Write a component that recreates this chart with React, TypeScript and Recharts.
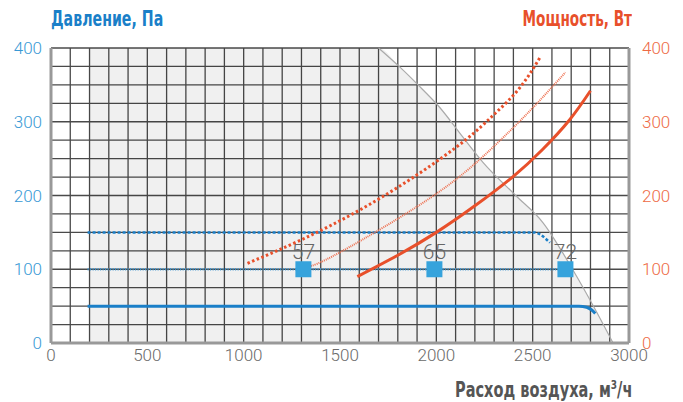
import * as React from 'react';
import { ComposedChart, Line, Area, Scatter, XAxis, YAxis, CartesianGrid } from 'recharts';

// pressure curves (left axis, Pa)
const pSolidX = [190, 2740, 2780, 2805, 2825];
const pSolidY = [50, 50, 48.5, 45, 40];
const pFineX = [190, 2650];
const pFineY = [100, 100];
const pDotX = [190, 2510, 2540, 2565, 2590];
const pDotY = [150, 150, 147, 142, 136];

// power curves (right axis, W)
const wSolidX = [1590, 1800, 2000, 2200, 2400, 2550, 2690, 2800];
const wSolidY = [90, 119, 150, 186, 226, 262, 302, 342];
const wFineX = [1330, 1500, 1970, 2280, 2490, 2670];
const wFineY = [103, 123, 197, 262, 316, 367];
const wDotX = [1020, 1300, 1600, 1900, 2150, 2300, 2430, 2540];
const wDotY = [108, 140, 180, 228, 275, 310, 345, 388];

// working zone boundary
const zoneX = [200, 1700, 1811, 1905, 2019, 2138, 2242, 2408, 2554, 2709, 2834, 2917];
const zoneY = [400, 400, 374, 350, 319, 279, 245, 201, 163, 99, 41, 0];

// operating points
const markX = [1310, 1990, 2670];
const markY = [100, 100, 100];
const markLabels = ['57', '65', '72'];

const xTicks = [0, 500, 1000, 1500, 2000, 2500, 3000];
const yTicks = [0, 100, 200, 300, 400];

const zip = (xs: number[], ys: number[]) => xs.map((x, i) => ({ x, y: ys[i] }));

const BLUE = '#1a7fc8';
const ORANGE = '#e8502b';
const tickFont = { fontFamily: 'Roboto, sans-serif', fontWeight: 300, fontSize: 17 };
const titleStyle: React.CSSProperties = {
  position: 'absolute', fontFamily: "'DejaVu Sans Condensed', 'DejaVu Sans', sans-serif",
  fontWeight: 700, fontSize: 21, whiteSpace: 'nowrap', lineHeight: '24px',
};

// grid: every 100 m3/h and every 25 Pa
const vGrid = (props: any) => {
  const { offset } = props;
  const out: number[] = [];
  for (let i = 0; i <= 30; i++) out.push(offset.left + (offset.width * i) / 30);
  return out;
};
const hGrid = (props: any) => {
  const { offset } = props;
  const out: number[] = [];
  for (let i = 0; i <= 16; i++) out.push(offset.top + (offset.height * i) / 16);
  return out;
};

function Marker(props: any) {
  const { cx, cy, payload } = props;
  return (
    <g>
      <rect x={cx - 8} y={cy - 8} width={16} height={16} fill="#36a3dc" />
      <text x={cx} y={cy - 10} textAnchor="middle" fill="#666"
        style={{ fontFamily: 'Roboto, sans-serif', fontWeight: 300, fontSize: 21 }}>{payload.label}</text>
    </g>
  );
}

export default function App() {
  const zone = zip(zoneX, zoneY);
  const marks = markX.map((x, i) => ({ x, y: markY[i], label: markLabels[i] }));
  return (
    <div style={{ position: 'absolute', left: 0, top: 0, width: 683, height: 402, background: '#fff' }}>
      <style>{'body{margin:0}'}</style>
      <div style={{ ...titleStyle, left: 51, top: 7, color: BLUE, transform: 'scaleX(0.75)', transformOrigin: 'left top' }}>Давление, Па</div>
      <div style={{ ...titleStyle, right: 51, top: 7, color: ORANGE, transform: 'scaleX(0.72)', transformOrigin: 'right top' }}>Мощность, Вт</div>
      <div style={{ ...titleStyle, right: 51, top: 373, color: '#555', transform: 'scaleX(0.77)', transformOrigin: 'right top' }}>
        Расход воздуха, м<sup style={{ fontSize: 13 }}>3</sup>/ч
      </div>
      <ComposedChart width={683} height={402} margin={{ top: 48, right: 0, bottom: 29, left: 0 }}>
        <CartesianGrid stroke="#4a4a4a" strokeWidth={1.3}
          verticalCoordinatesGenerator={vGrid} horizontalCoordinatesGenerator={hGrid} />
        <XAxis dataKey="x" type="number" domain={[0, 3000]} ticks={xTicks} height={30}
          tickSize={0} tickMargin={6} axisLine={{ stroke: '#999', strokeWidth: 3 }}
          tick={{ fill: '#6a6a6a', ...tickFont }} allowDataOverflow />
        <YAxis yAxisId="left" type="number" domain={[0, 400]} ticks={yTicks} width={51}
          tickSize={0} tickMargin={9} axisLine={{ stroke: '#999', strokeWidth: 3 }}
          tick={{ fill: '#3899d5', ...tickFont }} />
        <YAxis yAxisId="right" orientation="right" type="number" domain={[0, 400]} ticks={yTicks} width={54}
          tickSize={0} tickMargin={13} axisLine={{ stroke: '#999', strokeWidth: 3 }}
          tick={{ fill: '#ee6a45', ...tickFont }} />
        <Area yAxisId="left" data={zone} dataKey="y" type="monotone" fill="#000" fillOpacity={0.06}
          stroke="none" isAnimationActive={false} />
        <Line yAxisId="left" data={zone.slice(1)} dataKey="y" type="monotone" stroke="#aaa" strokeWidth={1.2}
          dot={false} isAnimationActive={false} />
        <Line yAxisId="left" data={zip(pSolidX, pSolidY)} dataKey="y" type="monotone" stroke={BLUE} strokeWidth={3}
          dot={false} isAnimationActive={false} />
        <Line yAxisId="left" data={zip(pFineX, pFineY)} dataKey="y" type="linear" stroke="#3a95d2" strokeWidth={2.5}
          strokeDasharray="1 1.5" dot={false} isAnimationActive={false} />
        <Line yAxisId="left" data={zip(pDotX, pDotY)} dataKey="y" type="monotone" stroke={BLUE} strokeWidth={2.5}
          strokeDasharray="3 2" dot={false} isAnimationActive={false} />
        <Line yAxisId="right" data={zip(wSolidX, wSolidY)} dataKey="y" type="natural" stroke={ORANGE} strokeWidth={3}
          dot={false} isAnimationActive={false} />
        <Line yAxisId="right" data={zip(wFineX, wFineY)} dataKey="y" type="natural" stroke="#ee7050" strokeWidth={2}
          strokeDasharray="1 1" dot={false} isAnimationActive={false} />
        <Line yAxisId="right" data={zip(wDotX, wDotY)} dataKey="y" type="natural" stroke={ORANGE} strokeWidth={3}
          strokeDasharray="2.5 2.5" dot={false} isAnimationActive={false} />
        <Scatter yAxisId="left" data={marks} dataKey="y" shape={<Marker />} isAnimationActive={false} />
      </ComposedChart>
    </div>
  );
}
